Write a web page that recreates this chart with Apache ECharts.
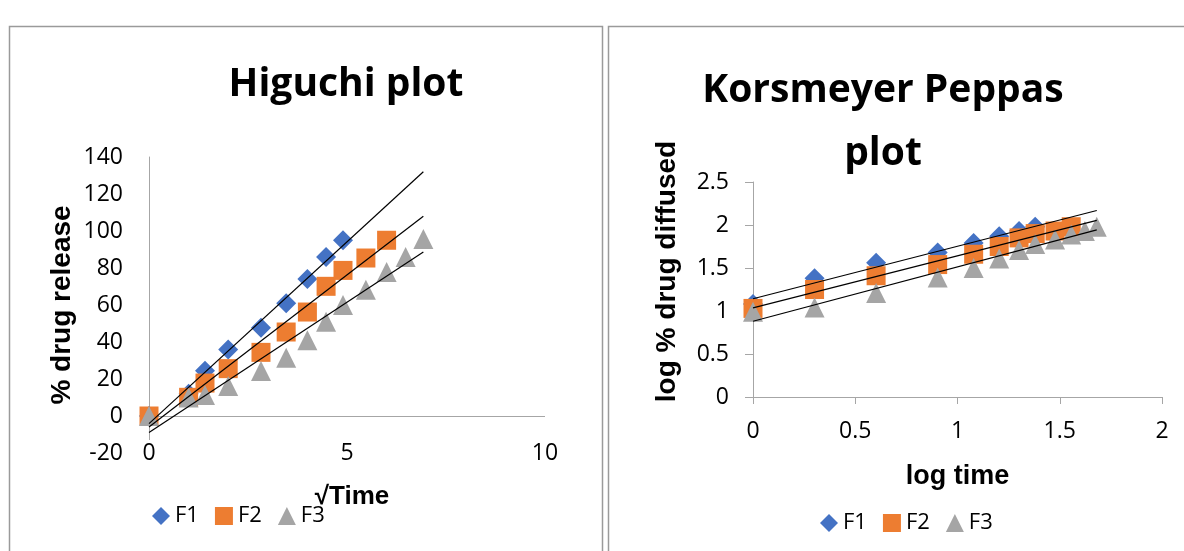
<!DOCTYPE html>
<html><head><meta charset="utf-8">
<script src="https://cdn.jsdelivr.net/npm/echarts@6/dist/echarts.min.js"></script>
<style>html,body{margin:0;padding:0;background:#fff}#c{width:1184px;height:551px}</style>
</head><body><div id="c"></div>
<script>
// ---- Higuchi plot data (x = √time, y = % drug release) ----
const higuchiF1X = [0, 1, 1.414, 2, 2.828, 3.464, 4, 4.472, 4.899];
const higuchiF1Y = [0, 12, 24.5, 36, 47.7, 61, 74, 86, 95];
const higuchiF2X = [0, 1, 1.414, 2, 2.828, 3.464, 4, 4.472, 4.899, 5.477, 6];
const higuchiF2Y = [0, 10.1, 17.8, 25.6, 34.4, 45.4, 56.2, 70.1, 78.7, 85.4, 95];
const higuchiF3X = [0, 1, 1.414, 2, 2.828, 3.464, 4, 4.472, 4.899, 5.477, 6, 6.481, 6.928];
const higuchiF3Y = [0, 10, 11.4, 16.2, 24.3, 31.5, 41, 51, 60, 68.3, 77.8, 86, 95.7];
// ---- Korsmeyer Peppas data (x = log time, y = log % drug diffused) ----
const peppasF1X = [0, 0.301, 0.602, 0.903, 1.079, 1.204, 1.301, 1.380];
const peppasF1Y = [1.08, 1.38, 1.56, 1.68, 1.79, 1.87, 1.93, 1.98];
const peppasF2X = [0, 0.301, 0.602, 0.903, 1.079, 1.204, 1.301, 1.380, 1.477, 1.556];
const peppasF2Y = [1.03, 1.25, 1.41, 1.54, 1.66, 1.75, 1.85, 1.90, 1.93, 1.98];
const peppasF3X = [0, 0.301, 0.602, 0.903, 1.079, 1.204, 1.301, 1.380, 1.477, 1.556, 1.623, 1.681];
const peppasF3Y = [0.99, 1.04, 1.21, 1.39, 1.50, 1.61, 1.71, 1.78, 1.83, 1.89, 1.93, 1.98];

const seriesNames = ['F1', 'F2', 'F3'];
const seriesColors = ['#4472C4', '#ED7D31', '#A5A5A5'];
const seriesSymbols = ['diamond', 'rect', 'triangle'];
const symbolSizes = [20, 19, 20];

const higuchiTicksY = { min: -20, max: 140, interval: 20 };
const higuchiTicksX = { min: 0, max: 10, interval: 5 };
const peppasTicksY = { min: 0, max: 2.5, interval: 0.5 };
const peppasTicksX = { min: 0, max: 2, interval: 0.5 };

function zip(xs, ys) { return xs.map((x, i) => [x, ys[i]]); }
function fit(xs, ys, x0, x1) {
  const n = xs.length;
  const mx = xs.reduce((a, b) => a + b, 0) / n;
  const my = ys.reduce((a, b) => a + b, 0) / n;
  let sxy = 0, sxx = 0;
  for (let i = 0; i < n; i++) { sxy += (xs[i] - mx) * (ys[i] - my); sxx += (xs[i] - mx) * (xs[i] - mx); }
  const b = sxy / sxx, a = my - b * mx;
  return [[x0, a + b * x0], [x1, a + b * x1]];
}

const tickFont = "'Open Sans', sans-serif";
const axisNameFont = "'Liberation Sans', Arial, sans-serif";
const titleFont = "'Open Sans', sans-serif";
const axisGrey = '#A6A6A6';

const higX = [higuchiF1X, higuchiF2X, higuchiF3X];
const higY = [higuchiF1Y, higuchiF2Y, higuchiF3Y];
const pepX = [peppasF1X, peppasF2X, peppasF3X];
const pepY = [peppasF1Y, peppasF2Y, peppasF3Y];
const higMaxX = Math.max(...higX.map(a => Math.max(...a)));
const pepMaxX = Math.max(...pepX.map(a => Math.max(...a)));

const series = [];
[0, 1].forEach(g => {
  const X = g === 0 ? higX : pepX, Y = g === 0 ? higY : pepY;
  seriesNames.forEach((name, i) => {
    const s = {
      name, type: 'scatter', xAxisIndex: g, yAxisIndex: g,
      symbol: seriesSymbols[i], symbolSize: symbolSizes[i],
      itemStyle: { color: seriesColors[i], opacity: 1 },
      data: zip(X[i], Y[i]), z: 3 + i, silent: true
    };
    if (g === 0 && i === 0) {
      s.markLine = {
        silent: true, symbol: ['none', 'none'], label: { show: false },
        lineStyle: { color: axisGrey, type: 'solid', width: 1 },
        data: [{ yAxis: 0 }], z: 1
      };
    }
    series.push(s);
  });
});
[0, 1].forEach(g => {
  const X = g === 0 ? higX : pepX, Y = g === 0 ? higY : pepY;
  const maxX = g === 0 ? higMaxX : pepMaxX;
  seriesNames.forEach((name, i) => {
    series.push({
      name: name + ' trend', type: 'line', xAxisIndex: g, yAxisIndex: g,
      data: fit(X[i], Y[i], 0, maxX), showSymbol: false, symbol: 'none',
      lineStyle: { color: '#000', width: 1.2 }, z: 10, silent: true
    });
  });
});

const legendData = seriesNames.map((n, i) => ({ name: n, icon: seriesSymbols[i] }));

const option = {
  animation: false,
  backgroundColor: '#fff',
  title: [
    { text: 'Higuchi plot', left: 341, top: 60, textAlign: 'center',
      textStyle: { fontFamily: titleFont, fontWeight: 'bold', fontSize: 39, color: '#000' } },
    { text: 'Korsmeyer Peppas\nplot', left: 878, top: 54, textAlign: 'center',
      textStyle: { fontFamily: titleFont, fontWeight: 'bold', fontSize: 39, color: '#000', lineHeight: 63 } }
  ],
  legend: [
    { left: 147, top: 500, itemWidth: 18, itemHeight: 18, itemGap: 16, data: legendData,
      textStyle: { fontFamily: tickFont, fontSize: 22, color: '#000' }, selectedMode: false },
    { left: 815, top: 507, itemWidth: 18, itemHeight: 18, itemGap: 16, data: legendData,
      textStyle: { fontFamily: tickFont, fontSize: 22, color: '#000' }, selectedMode: false }
  ],
  grid: [
    { left: 149, top: 157, width: 396, height: 296 },
    { left: 753, top: 182, width: 409, height: 215 }
  ],
  xAxis: [
    { type: 'value', gridIndex: 0, min: higuchiTicksX.min, max: higuchiTicksX.max, interval: higuchiTicksX.interval,
      axisLine: { show: false }, axisTick: { show: false }, splitLine: { show: false },
      axisLabel: { color: '#000', fontFamily: tickFont, fontSize: 23, margin: -13, backgroundColor: '#fff', padding: [2, 2] },
      name: '√Time', nameLocation: 'middle', nameGap: 31,
      nameTextStyle: { fontFamily: axisNameFont, fontWeight: 'bold', fontSize: 26, color: '#000', padding: [0, 0, 0, 10] } },
    { type: 'value', gridIndex: 1, min: peppasTicksX.min, max: peppasTicksX.max, interval: peppasTicksX.interval,
      axisLine: { show: true, onZero: false, lineStyle: { color: axisGrey, width: 1 } },
      axisTick: { show: true, length: 7, lineStyle: { color: axisGrey } }, splitLine: { show: false },
      axisLabel: { color: '#000', fontFamily: tickFont, fontSize: 23, margin: 23 },
      name: 'log time', nameLocation: 'middle', nameGap: 66,
      nameTextStyle: { fontFamily: axisNameFont, fontWeight: 'bold', fontSize: 27, color: '#000' } }
  ],
  yAxis: [
    { type: 'value', gridIndex: 0, min: higuchiTicksY.min, max: higuchiTicksY.max, interval: higuchiTicksY.interval,
      axisLine: { show: true, onZero: false, lineStyle: { color: axisGrey, width: 1 } },
      axisTick: { show: false }, splitLine: { show: false },
      axisLabel: { color: '#000', fontFamily: tickFont, fontSize: 23, margin: 26 },
      name: '% drug release', nameLocation: 'middle', nameRotate: 90, nameGap: 73,
      nameTextStyle: { fontFamily: axisNameFont, fontWeight: 'bold', fontSize: 28, color: '#000' } },
    { type: 'value', gridIndex: 1, min: peppasTicksY.min, max: peppasTicksY.max, interval: peppasTicksY.interval,
      axisLine: { show: true, onZero: false, lineStyle: { color: axisGrey, width: 1 } },
      axisTick: { show: true, length: 8, lineStyle: { color: axisGrey } }, splitLine: { show: false },
      axisLabel: { color: '#000', fontFamily: tickFont, fontSize: 23, margin: 24 },
      name: 'log % drug diffused', nameLocation: 'middle', nameRotate: 90, nameGap: 72,
      nameTextStyle: { fontFamily: axisNameFont, fontWeight: 'bold', fontSize: 28, color: '#000', padding: [0, 0, 0, 36] } }
  ],
  graphic: [
    { type: 'rect', shape: { x: 9.5, y: 26.5, width: 593, height: 560 }, style: { fill: 'none', stroke: '#9a9a9a', lineWidth: 1.5 }, silent: true, z: -10 },
    { type: 'rect', shape: { x: 608.5, y: 26.5, width: 620, height: 560 }, style: { fill: 'none', stroke: '#9a9a9a', lineWidth: 1.5 }, silent: true, z: -10 }
  ],
  series
};

const chart = echarts.init(document.getElementById('c'), null, { renderer: 'canvas' });
chart.setOption(option);
</script>
</body></html>
